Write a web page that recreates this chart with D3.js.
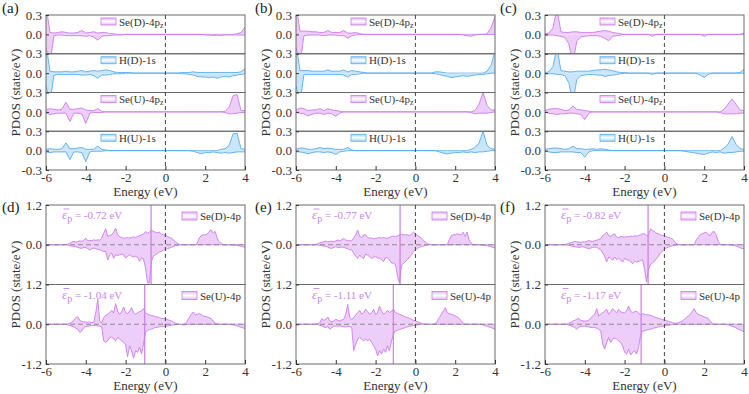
<!DOCTYPE html>
<html>
<head>
<meta charset="utf-8">
<script src="https://cdn.jsdelivr.net/npm/d3@7"></script>
<style>
  body { margin: 0; background: #fff; }
  svg text { font-family: "Liberation Serif", "Times New Roman", serif; }
</style>
</head>
<body>
<svg id="chart" width="749" height="394"></svg>
<script>
// ---------- data ----------
// top row: 0.2 eV grid, -6 .. 4 eV (51 points); bottom row: 0.1 eV grid (101 points)
const topStep = 0.2, botStep = 0.1;
const eMin = -6, eMax = 4;
const xTicks = [-6, -4, -2, 0, 2, 4];
const letters = ["(a)", "(b)", "(c)", "(d)", "(e)", "(f)"];
const topNames = [["Se(D)-4p", "z"], ["H(D)-1s", ""], ["Se(U)-4p", "z"], ["H(U)-1s", ""]];
const topKinds = ["Se", "H", "Se", "H"];
const botNames = ["Se(D)-4p", "Se(U)-4p"];
const epsD = [-0.72, -0.77, -0.82];
const epsU = [-1.04, -1.11, -1.17];

// (a)
const aSeD_up = [.45,.03,.02,.03,.04, .03,.02,.02,.03,.06, .02,.03,.04,.02,.03, .03,.01,.01,0,0, 0,0,0,0,0, 0,0,0,0,0, 0,0,0,0,0, 0,0,0,0,0, 0,0,0,0,0, 0,0,0,.01,.03, .11];
const aSeD_dn = [-.2,-.45,-.02,-.01,-.01, -.02,-.02,-.02,-.02,-.02, -.03,-.02,-.04,-.09,-.03, -.02,-.02,-.01,-.01,-.01, 0,0,0,0,0, 0,0,0,0,0, 0,0,0,0,0, 0,0,0,0,0, -.01,-.01,-.02,-.01,-.02, -.01,-.01,-.01,-.01,-.01, -.01];
const aHD_up = [.45,.03,.02,.02,.02, .03,.02,.02,.03,.04, .02,.03,.04,.03,.04, .05,.04,.02,.01,.01, .01,.01,0,0,0, 0,0,0,0,0, 0,0,0,0,.01, .01,.01,.02,.01,.01, .01,.01,.01,.01,.01, .01,.01,.01,.01,.02, .07];
const aHD_dn = [-.2,-.45,-.03,-.02,-.02, -.02,-.02,-.02,-.02,-.03, -.03,-.02,-.04,-.08,-.03, -.03,-.02,-.01,-.01,-.01, 0,0,0,0,0, 0,0,0,0,0, 0,0,0,0,-.01, -.01,-.02,-.03,-.05,-.06, -.06,-.07,-.06,-.08,-.06, -.05,-.06,-.04,-.03,-.02, -.01];
const aSeU_up = [.03,.05,.04,.03,.04, .15,.04,.04,.05,.06, .03,.02,.02,.05,.01, 0,0,0,0,0, 0,0,0,0,0, 0,0,0,0,0, 0,0,0,0,0, 0,0,0,0,0, 0,0,0,0,0, .01,.07,.25,.27,.02, .02];
const aSeU_dn = [-.02,-.04,-.03,-.02,-.02, -.02,-.15,-.02,-.02,-.03, -.18,-.02,-.01,-.01,-.01, 0,0,0,0,0, 0,0,0,0,0, 0,0,0,0,0, 0,0,0,0,0, 0,0,0,0,0, 0,0,0,0,0, -.01,-.03,-.03,-.02,-.01, -.01];
const aHU_up = [.02,.03,.02,.02,.03, .12,.03,.03,.04,.05, .02,.02,.02,.07,.02, .01,0,0,0,0, 0,0,0,0,0, 0,0,0,0,0, 0,0,0,0,0, 0,0,0,0,0, 0,0,0,0,.02, .03,.08,.26,.27,.03, .02];
const aHU_dn = [-.02,-.03,-.02,-.02,-.02, -.02,-.14,-.02,-.02,-.03, -.17,-.02,-.01,-.01,-.01, 0,0,0,0,0, 0,0,0,0,0, 0,0,0,0,0, 0,0,0,0,0, 0,0,-.01,-.03,-.05, -.03,-.03,-.02,-.03,-.04, -.03,-.04,-.03,-.02,-.02, -.02];
// (b)
const bSeD_up = [.45,.05,.05,.05,.04, .04,.03,.03,.06,.03, .03,.03,.06,.02,.02, .03,.01,0,0,0, 0,0,0,0,0, 0,0,0,0,0, 0,0,0,0,0, 0,0,0,0,0, 0,0,0,0,0, 0,0,0,.01,.1, .28];
const bSeD_dn = [-.2,-.45,-.02,-.01,-.01, -.01,-.01,-.02,-.01,-.01, -.01,-.02,-.02,-.06,-.02, -.01,0,0,0,0, 0,0,0,0,0, 0,0,0,0,0, 0,0,0,0,0, 0,0,0,0,0, 0,0,-.01,-.02,-.03, -.01,0,0,0,0, 0];
const bHD_up = [.45,.04,.04,.04,.03, .03,.03,.03,.05,.03, .03,.03,.05,.02,.04, .03,.02,.01,0,0, 0,0,0,0,0, 0,0,0,0,0, 0,0,0,0,0, .02,.02,.01,0,0, 0,0,0,0,0, 0,0,0,.03,.12, .35];
const bHD_dn = [-.2,-.45,-.02,-.02,-.02, -.02,-.02,-.02,-.02,-.02, -.02,-.02,-.03,-.06,-.02, -.02,-.01,0,0,0, 0,0,0,0,0, 0,0,0,0,0, 0,0,0,0,0, -.01,-.02,-.04,-.05,-.07, -.06,-.05,-.04,-.05,-.04, -.03,-.02,-.02,-.01,0, 0];
const bSeU_up = [.03,.06,.05,.02,.03, .03,.05,.02,.05,.03, .02,.01,0,0,0, 0,0,0,0,0, 0,0,0,0,0, 0,0,0,0,0, 0,0,0,0,0, 0,0,0,0,0, 0,0,0,0,0, .02,.12,.3,.1,.03, .03];
const bSeU_dn = [-.01,-.02,-.03,-.06,-.04, -.02,-.02,-.04,-.02,-.03, -.07,-.02,0,0,0, 0,0,0,0,0, 0,0,0,0,0, 0,0,0,0,0, 0,0,0,0,0, 0,0,0,0,0, 0,0,0,0,-.01, -.03,-.02,-.02,-.02,-.01, 0];
const bHU_up = [.02,.04,.04,.02,.02, .03,.05,.03,.04,.03, .02,.02,.02,.05,.01, 0,0,0,0,0, 0,0,0,0,0, 0,0,0,0,0, 0,0,0,0,0, 0,0,0,0,0, 0,0,0,0,.02, .05,.12,.3,.08,.03, .02];
const bHU_dn = [-.02,-.02,-.03,-.05,-.03, -.02,-.02,-.03,-.02,-.03, -.06,-.02,-.01,0,0, 0,0,0,0,0, 0,0,0,0,0, 0,0,0,0,0, 0,0,0,0,0, 0,-.02,-.04,-.05,-.04, -.03,-.03,-.02,-.03,-.02, -.03,-.02,-.02,-.01,0, 0];
// (c)
const cSeD_up = [.01,.02,.1,.4,.04, .03,.03,.04,.04,.03, .03,.03,.03,.04,.05, .06,.05,.03,.02,.01, 0,0,0,0,0, 0,0,0,0,0, 0,0,0,0,0, 0,0,0,0,0, 0,0,0,0,0, 0,0,0,0,0, .02];
const cSeD_dn = [-.01,-.01,-.01,-.02,-.03, -.05,-.15,-.45,-.1,-.04, -.03,-.02,-.02,-.02,-.03, -.06,-.1,-.03,-.02,-.01, 0,0,0,0,0, 0,0,-.03,0,0, 0,0,0,0,0, 0,0,0,0,0, -.03,0,0,0,0, 0,0,0,0,0, 0];
const cHD_up = [.01,.02,.1,.4,.04, .03,.02,.02,.03,.03, .03,.03,.04,.05,.05, .06,.05,.04,.02,.01, .01,0,0,0,0, 0,0,0,0,0, 0,0,0,0,0, 0,0,0,0,0, 0,0,0,0,0, 0,0,0,0,.01, .06];
const cHD_dn = [-.01,-.01,-.01,-.02,-.02, -.04,-.15,-.45,-.1,-.04, -.03,-.02,-.02,-.03,-.03, -.05,-.04,-.03,-.02,-.01, 0,0,0,0,0, 0,0,-.02,0,0, 0,0,0,0,0, 0,0,0,0,-.03, -.07,-.02,0,0,0, 0,0,0,0,0, 0];
const cSeU_up = [.02,.04,.05,.05,.04, .02,.03,.09,.04,.03, .02,.01,0,0,0, 0,0,0,0,0, 0,0,0,0,0, 0,0,0,0,0, 0,0,0,0,0, 0,0,0,0,0, 0,0,0,0,0, .04,.12,.2,.12,.03, .02];
const cSeU_dn = [-.01,-.02,-.03,-.04,-.03, -.03,-.02,-.02,-.03,-.04, -.12,-.02,0,0,0, 0,0,0,0,0, 0,0,0,0,0, 0,0,0,0,0, 0,0,0,0,0, 0,0,0,0,0, 0,0,0,0,-.01, -.03,-.03,-.03,-.03,-.02, -.02];
const cHU_up = [.02,.03,.04,.04,.03, .02,.03,.07,.03,.03, .02,.02,.03,.02,.03, .02,.01,0,0,0, 0,0,0,0,0, 0,0,0,0,0, 0,0,0,0,0, 0,0,0,0,0, 0,0,0,0,0, .04,.1,.22,.1,.03, .02];
const cHU_dn = [-.01,-.02,-.03,-.03,-.02, -.02,-.02,-.02,-.03,-.03, -.1,-.02,0,0,0, 0,0,0,0,0, 0,0,0,0,0, 0,0,0,0,0, 0,0,0,0,0, -.01,-.02,-.03,-.04,-.05, -.06,-.04,-.02,-.03,-.02, -.04,-.03,-.03,-.02,-.01, -.01];

// (d)
const dD_up = [0,0,0,0,0,0,0,0,0,0,
  .01,.02,.05,.08,.1,.08,.1,.12,.1,.14,
  .2,.12,.13,.12,.15,.13,.15,.14,.2,.35,
  .48,.25,.28,.3,.38,.5,.3,.25,.22,.2,
  .2,.22,.2,.22,.24,.22,.25,.27,.3,.32,
  .4,.35,.38,.45,.4,.38,.36,.38,.32,.3,
  .3,.25,.22,.2,.15,.1,.04,.01,0,0,
  0,0,0,0,0,0,.05,.2,.28,.3,
  .3,.32,.4,.45,.35,.4,.2,.1,.03,.01,
  0,0,0,0,0,0,0,0,0,0, 0];
const dD_dn = [0,0,0,0,0,0,0,0,0,0,
  0,-.01,-.03,-.04,-.05,-.06,-.08,-.1,-.11,-.08,
  -.08,-.12,-.16,-.12,-.1,-.12,-.14,-.15,-.18,-.2,
  -.2,-.46,-.3,-.25,-.41,-.3,-.33,-.3,-.28,-.3,
  -.4,-.35,-.3,-.35,-.37,-.35,-.37,-.5,-.4,-.42,
  -.7,-1.15,-1.15,-.5,-.35,-.3,-.26,-.22,-.2,-.16,
  -.14,-.12,-.1,-.08,-.05,-.03,-.02,-.01,0,0,
  0,0,0,0,0,0,0,0,0,0,
  0,0,0,0,0,0,0,0,0,0,
  0,0,0,0,-.01,-.01,-.02,-.03,-.04,-.06, -.08];
const dU_up = [0,0,0,0,0,0,0,0,0,0,
  0,.01,.03,.07,.12,.2,.22,.12,.08,.07,
  .07,.06,.07,.05,.06,.35,.75,.1,.05,.2,
  .27,.3,.35,.42,.34,.62,.4,.3,.38,.52,
  .35,.32,.4,.5,.35,.3,.35,.38,.4,.47,
  .35,.3,.28,.27,.25,.23,.22,.2,.18,.17,
  .17,.14,.12,.1,.06,.03,.01,0,0,0,
  .02,.1,.2,.3,.37,.28,.3,.32,.3,.25,
  .24,.22,.2,.17,.1,.03,.01,0,0,0,
  0,0,0,0,0,0,0,0,0,0, 0];
const dU_dn = [0,0,0,0,0,0,0,0,0,0,
  0,-.02,-.04,-.06,-.08,-.12,-.15,-.25,-.2,-.1,
  -.07,-.06,-.05,-.04,-.04,-.04,-.05,-.06,-.08,-.5,
  -.55,-.5,-.4,-.38,-.45,-.5,-.4,-.45,-.5,-.55,
  -.6,-.98,-.65,-.8,-1.03,-.8,-.85,-.7,-.9,-.6,
  -.25,-.18,-.16,-.14,-.12,-.1,-.09,-.08,-.07,-.06,
  -.06,-.05,-.04,-.03,-.02,-.01,0,0,-.01,-.02,
  -.02,-.01,0,0,0,0,0,0,0,0,
  0,0,0,0,0,0,0,0,0,0,
  0,0,0,-.01,-.02,-.03,-.05,-.07,-.09,-.11, -.13];
// (e)
const eD_up = [0,0,0,0,0,0,0,0,0,0,
  .01,.03,.06,.07,.1,.11,.08,.1,.11,.09,
  .12,.14,.12,.15,.19,.14,.13,.12,.12,.2,
  .3,.44,.25,.22,.3,.3,.22,.2,.2,.18,
  .2,.2,.22,.2,.22,.2,.2,.22,.25,.26,
  .25,.27,.3,.32,.3,.3,.3,.28,.32,.38,
  .33,.28,.25,.2,.14,.08,.03,.01,0,0,
  0,0,0,0,0,0,0,.15,.27,.3,
  .3,.33,.31,.3,.38,.25,.38,.15,.05,0,
  0,0,0,0,0,0,0,0,0,0, 0];
const eD_dn = [0,0,0,0,0,0,0,0,0,0,
  0,-.01,-.02,-.03,-.04,-.05,-.07,-.1,-.11,-.08,
  -.06,-.08,-.08,-.07,-.08,-.1,-.12,-.15,-.16,-.25,
  -.35,-.41,-.31,-.38,-.41,-.28,-.32,-.36,-.41,-.38,
  -.36,-.4,-.41,-.45,-.51,-.38,-.4,-.46,-.55,-.56,
  -.6,-.95,-1.16,-.62,-.56,-.51,-.45,-.38,-.3,-.22,
  -.16,-.11,-.08,-.05,-.04,-.02,-.01,0,0,0,
  0,0,0,0,0,0,0,0,0,0,
  0,0,0,0,0,0,0,0,0,0,
  0,0,0,0,-.01,-.02,-.03,-.04,-.06,-.08, -.1];
const eU_up = [0,0,0,0,0,0,0,0,0,0,
  0,.02,.05,.17,.12,.15,.22,.1,.07,.1,
  .15,.12,.1,.13,.15,.3,.6,.2,.15,.2,
  .28,.35,.42,.3,.35,.45,.38,.3,.35,.45,
  .3,.35,.55,.4,.3,.35,.42,.35,.4,.45,
  .35,.33,.3,.28,.25,.22,.2,.18,.15,.12,
  .1,.08,.05,.03,.01,0,0,0,0,0,
  .02,.1,.2,.3,.4,.5,.35,.32,.3,.28,
  .25,.22,.18,.1,.03,0,0,0,0,0,
  0,0,0,0,0,0,0,0,0,0, 0];
const eU_dn = [0,0,0,0,0,0,0,0,0,0,
  0,-.01,-.03,-.05,-.08,-.1,-.07,-.15,-.1,-.06,
  -.05,-.06,-.05,-.06,-.08,-.08,-.06,-.07,-.1,-.8,
  -.6,-.45,-.4,-.45,-.5,-.45,-.5,-.45,-.55,-.65,
  -.75,-.95,-.8,-.9,-.75,-.85,-.65,-.8,-.5,-.3,
  -.2,-.18,-.16,-.14,-.12,-.1,-.08,-.06,-.05,-.04,
  -.03,-.02,-.01,0,0,0,0,0,0,0,
  0,0,0,0,0,0,0,0,0,0,
  0,0,0,0,0,0,0,0,0,0,
  0,0,0,0,-.02,-.04,-.06,-.08,-.1,-.12, -.15];
// (f)
const fD_up = [0,0,0,0,0,0,0,0,0,0,
  .01,.02,.04,.06,.08,.1,.09,.08,.07,.09,
  .08,.1,.13,.11,.1,.12,.14,.16,.18,.28,
  .32,.38,.28,.25,.3,.33,.23,.22,.25,.24,
  .23,.25,.24,.26,.25,.27,.26,.28,.3,.33,
  .33,.28,.3,.48,.43,.4,.35,.33,.3,.28,
  .28,.25,.22,.2,.18,.1,.04,.01,0,0,
  0,0,0,0,0,0,.15,.23,.3,.33,
  .36,.38,.3,.28,.38,.4,.3,.1,.02,0,
  0,0,0,0,0,0,0,0,0,0, 0];
const fD_dn = [0,0,0,0,0,0,0,0,0,0,
  0,-.01,-.02,-.03,-.05,-.06,-.07,-.08,-.07,-.06,
  -.08,-.1,-.12,-.1,-.08,-.07,-.08,-.12,-.15,-.25,
  -.35,-.52,-.37,-.4,-.47,-.37,-.45,-.4,-.47,-.52,
  -.42,-.45,-.47,-.5,-.57,-.5,-.52,-.5,-.48,-.45,
  -.72,-1.12,-.75,-.6,-.55,-.5,-.42,-.35,-.25,-.2,
  -.14,-.1,-.07,-.05,-.03,-.02,-.01,0,0,0,
  0,0,0,0,0,0,0,0,0,0,
  0,0,0,0,0,0,0,0,0,0,
  0,0,0,0,-.01,-.02,-.04,-.06,-.09,-.11, -.12];
const fU_up = [0,0,0,0,0,0,0,0,0,0,
  0,.01,.03,.06,.1,.12,.15,.17,.12,.1,
  .1,.1,.12,.2,.25,.3,.47,.25,.3,.35,
  .4,.45,.3,.38,.47,.4,.35,.45,.38,.35,
  .35,.4,.55,.4,.35,.38,.4,.33,.3,.32,
  .3,.29,.28,.27,.25,.22,.2,.18,.16,.14,
  .13,.11,.09,.07,.05,.03,.03,.05,.07,.1,
  .15,.2,.25,.3,.38,.47,.35,.3,.27,.25,
  .22,.2,.18,.1,.03,0,0,0,0,0,
  0,0,0,0,0,0,0,0,0,0, 0];
const fU_dn = [0,0,0,0,0,0,0,0,0,0,
  0,-.01,-.03,-.05,-.07,-.1,-.15,-.08,-.07,-.06,
  -.06,-.07,-.08,-.1,-.1,-.1,-.12,-.15,-.2,-.6,
  -.75,-.55,-.4,-.55,-.45,-.42,-.45,-.5,-.55,-.65,
  -.85,-.9,-.75,-.93,-.85,-.8,-.9,-.7,-.35,-.2,
  -.2,-.18,-.16,-.15,-.13,-.11,-.1,-.08,-.07,-.06,
  -.05,-.04,-.03,-.02,-.01,0,0,0,0,0,
  0,0,0,0,0,0,0,0,0,0,
  0,0,0,0,0,0,0,0,0,0,
  0,-.01,-.02,-.04,-.06,-.08,-.11,-.14,-.17,-.2, -.22];

// ---------- layout ----------
const colX = [46, 296, 545];
const plotW = 199;
const letterX = [2, 255, 500];
const topY = 15, subH = 38.75;
const botY = 205, halfH = 79.5;

const colors = {
  Se: { line: "#cc7cec", fill: "#e8c2f7", text: "#c986ee" },
  H:  { line: "#5aaced", fill: "#bcdef7" }
};

const svg = d3.select("#chart");
const defs = svg.append("defs");
["Se", "H"].forEach(k => {
  const gr = defs.append("linearGradient").attr("id", "leg" + k)
    .attr("x1", 0).attr("x2", 0).attr("y1", 0).attr("y2", 1);
  gr.append("stop").attr("offset", 0).attr("stop-color", colors[k].line);
  gr.append("stop").attr("offset", 0.5).attr("stop-color", "#fff");
  gr.append("stop").attr("offset", 1).attr("stop-color", colors[k].line);
});

const topE = d3.range(51).map(i => eMin + i * topStep);
const botE = d3.range(101).map(i => eMin + i * botStep);
const fmt = d => d.toFixed(1);

let clipN = 0;
function drawCurves(g, x, y, energies, up, dn, col, box) {
  const id = "clip" + (clipN++);
  defs.append("clipPath").attr("id", id).append("rect")
    .attr("x", box[0]).attr("y", box[1]).attr("width", box[2]).attr("height", box[3]);
  const cg = g.append("g").attr("clip-path", `url(#${id})`);
  [up, dn].forEach(vals => {
    const pts = energies.map((e, i) => [e, vals[i]]);
    const area = d3.area().x(d => x(d[0])).y0(y(0)).y1(d => y(d[1]));
    const line = d3.line().x(d => x(d[0])).y(d => y(d[1]));
    cg.append("path").attr("d", area(pts)).attr("fill", col.fill).attr("fill-opacity", 0.8);
    cg.append("path").attr("d", line(pts)).attr("fill", "none")
      .attr("stroke", col.line).attr("stroke-width", 0.9);
  });
}

function yAxis(g, y, x0, vals) {
  g.append("g").attr("transform", `translate(${x0},0)`)
    .call(d3.axisLeft(y).tickValues(vals).tickFormat(fmt).tickSize(-3).tickPadding(4))
    .call(a => a.select(".domain").remove())
    .attr("font-family", null).attr("font-size", 13).attr("color", "#333");
}

function xAxis(g, x, yb) {
  g.append("g").attr("transform", `translate(0,${yb})`)
    .call(d3.axisBottom(x).tickValues(xTicks).tickFormat(d => String(d)).tickSize(-4).tickPadding(3))
    .call(a => a.select(".domain").remove())
    .attr("font-family", null).attr("font-size", 13).attr("color", "#333");
  g.append("text").attr("x", (x.range()[0] + x.range()[1]) / 2).attr("y", yb + 26)
    .attr("text-anchor", "middle").attr("font-size", 13).attr("fill", "#333").text("Energy (eV)");
}

function yTitle(g, x0, midY) {
  g.append("text").attr("transform", `translate(${x0 - 26},${midY}) rotate(-90)`)
    .attr("text-anchor", "middle").attr("font-size", 13).attr("fill", "#333").text("PDOS (state/eV)");
}

// ---------- top row ----------
const topData = [
  [[aSeD_up, aSeD_dn], [aHD_up, aHD_dn], [aSeU_up, aSeU_dn], [aHU_up, aHU_dn]],
  [[bSeD_up, bSeD_dn], [bHD_up, bHD_dn], [bSeU_up, bSeU_dn], [bHU_up, bHU_dn]],
  [[cSeD_up, cSeD_dn], [cHD_up, cHD_dn], [cSeU_up, cSeU_dn], [cHU_up, cHU_dn]]
];

topData.forEach((panel, c) => {
  const x0 = colX[c];
  const x = d3.scaleLinear().domain([eMin, eMax]).range([x0, x0 + plotW]);
  const g = svg.append("g");
  panel.forEach((s, k) => {
    const top = topY + k * subH;
    const y = d3.scaleLinear().domain([-0.3, 0.3]).range([top + subH, top]);
    const col = colors[topKinds[k]];
    drawCurves(g, x, y, topE, s[0], s[1], col, [x0, top, plotW, subH]);
    g.append("rect").attr("x", x0).attr("y", top).attr("width", plotW).attr("height", subH)
      .attr("fill", "none").attr("stroke", "#6a6a6a").attr("stroke-width", 1);
    yAxis(g, y, x0, k < 3 ? [0, 0.3] : [-0.3, 0, 0.3]);
    // legend
    g.append("rect").attr("x", x0 + 55).attr("y", top + 3).attr("width", 15).attr("height", 7)
      .attr("fill", `url(#leg${topKinds[k]})`).attr("fill-opacity", 0.55)
      .attr("stroke", col.line).attr("stroke-width", 0.8);
    const t = g.append("text").attr("x", x0 + 73).attr("y", top + 10.5).attr("font-size", 11).attr("fill", "#333");
    t.append("tspan").text(topNames[k][0]);
    if (topNames[k][1]) t.append("tspan").attr("font-size", 8).attr("dy", 2).text(topNames[k][1]);
  });
  g.append("line").attr("x1", x(0)).attr("x2", x(0)).attr("y1", topY).attr("y2", topY + 4 * subH)
    .attr("stroke", "#444").attr("stroke-dasharray", "4,3");
  xAxis(g, x, topY + 4 * subH);
  yTitle(g, x0, topY + 2 * subH);
  svg.append("text").attr("x", letterX[c]).attr("y", 13).attr("font-size", 15).attr("fill", "#222").text(letters[c]);
});

// ---------- bottom row ----------
const botData = [
  [[dD_up, dD_dn], [dU_up, dU_dn]],
  [[eD_up, eD_dn], [eU_up, eU_dn]],
  [[fD_up, fD_dn], [fU_up, fU_dn]]
];
const epsVals = [epsD, epsU];

botData.forEach((panel, c) => {
  const x0 = colX[c];
  const x = d3.scaleLinear().domain([eMin, eMax]).range([x0, x0 + plotW]);
  const g = svg.append("g");
  const col = colors.Se;
  panel.forEach((s, k) => {
    const top = botY + k * halfH;
    const y = d3.scaleLinear().domain([-1.2, 1.2]).range([top + halfH, top]);
    drawCurves(g, x, y, botE, s[0], s[1], col, [x0, top, plotW, halfH]);
    g.append("line").attr("x1", x0).attr("x2", x0 + plotW).attr("y1", y(0)).attr("y2", y(0))
      .attr("stroke", "#8a8a8a").attr("stroke-dasharray", "5,3");
    const ep = epsVals[k][c];
    g.append("line").attr("x1", x(ep)).attr("x2", x(ep)).attr("y1", top).attr("y2", top + halfH)
      .attr("stroke", col.line).attr("stroke-width", 1.2);
    g.append("rect").attr("x", x0).attr("y", top).attr("width", plotW).attr("height", halfH)
      .attr("fill", "none").attr("stroke", "#6a6a6a").attr("stroke-width", 1);
    yAxis(g, y, x0, k < 1 ? [0, 1.2] : [-1.2, 0, 1.2]);
    // legend
    g.append("rect").attr("x", x0 + 136).attr("y", top + 7).attr("width", 15).attr("height", 8)
      .attr("fill", "url(#legSe)").attr("fill-opacity", 0.55)
      .attr("stroke", col.line).attr("stroke-width", 0.8);
    g.append("text").attr("x", x0 + 154).attr("y", top + 15).attr("font-size", 11).attr("fill", "#333")
      .text(botNames[k]);
    // epsilon label: italic epsilon with a bar, subscript p
    const lx = x0 + 16, ly = top + 14;
    const t = g.append("text").attr("x", lx).attr("y", ly).attr("fill", col.text).attr("font-size", 11);
    t.append("tspan").attr("font-style", "italic").attr("font-size", 13).text("\u03b5");
    t.append("tspan").attr("font-size", 10).attr("dy", 3).text("p");
    t.append("tspan").attr("dy", -3).text(` = ${ep.toFixed(2)} eV`);
    g.append("line").attr("x1", lx + 1.5).attr("x2", lx + 7.5).attr("y1", ly - 10).attr("y2", ly - 10)
      .attr("stroke", col.text).attr("stroke-width", 0.9);
  });
  g.append("line").attr("x1", x(0)).attr("x2", x(0)).attr("y1", botY).attr("y2", botY + 2 * halfH)
    .attr("stroke", "#444").attr("stroke-dasharray", "4,3");
  xAxis(g, x, botY + 2 * halfH);
  yTitle(g, x0, botY + halfH);
  svg.append("text").attr("x", letterX[c]).attr("y", 212).attr("font-size", 15).attr("fill", "#222").text(letters[c + 3]);
});
</script>
</body>
</html>
